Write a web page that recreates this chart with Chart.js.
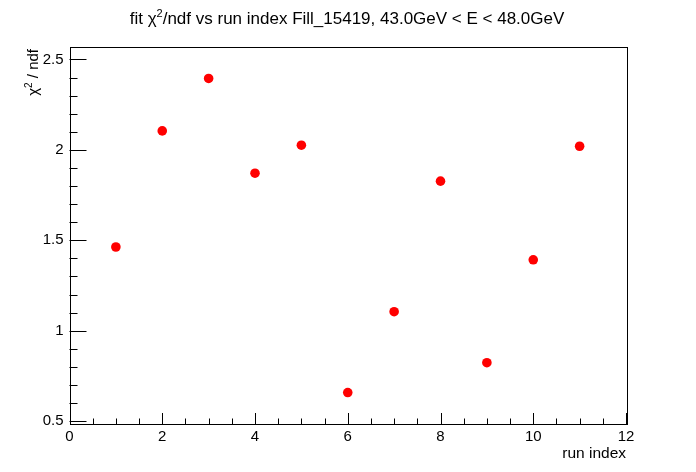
<!DOCTYPE html>
<html>
<head>
<meta charset="utf-8">
<script src="https://cdn.jsdelivr.net/npm/chart.js@4.4.1/dist/chart.umd.min.js"></script>
<style>
  html, body { margin: 0; padding: 0; background: #fff; }
  canvas { display: block; }
</style>
</head>
<body>
<canvas id="chart" width="696" height="472"></canvas>
<script>
// Data
const runIndex = [1, 2, 3, 4, 5, 6, 7, 8, 9, 10, 11];
const chi2ndf = [1.463, 2.105, 2.395, 1.871, 2.026, 0.658, 1.105, 1.827, 0.823, 1.392, 2.020];
const xTicks = [0, 2, 4, 6, 8, 10, 12];
const yTicks = [0.5, 1, 1.5, 2, 2.5];

const FONT = '"Liberation Sans", Arial, Helvetica, sans-serif';

// ROOT-like frame, inward ticks and titles
const rootStyle = {
    id: 'rootStyle',
    afterDraw(chart) {
        const ctx = chart.ctx;
        const area = chart.chartArea;
        const xs = chart.scales.x;
        const ys = chart.scales.y;
        ctx.save();
        ctx.strokeStyle = '#000';
        ctx.lineWidth = 1;

        // frame
        ctx.strokeRect(Math.round(area.left) + 0.5, Math.round(area.top) + 0.5,
            Math.round(area.right - area.left), Math.round(area.bottom - area.top));

        // x ticks (major every 2, minor every 0.5)
        ctx.beginPath();
        for (let v = xs.min; v <= xs.max + 1e-9; v += 0.5) {
            const px = Math.round(xs.getPixelForValue(v)) + 0.5;
            const major = Math.abs(v / 2 - Math.round(v / 2)) < 1e-6;
            const len = major ? 11 : 5.5;
            ctx.moveTo(px, area.bottom);
            ctx.lineTo(px, area.bottom - len);
        }
        // y ticks (major every 0.5, minor every 0.1)
        const start = Math.ceil(ys.min * 10 - 1e-9) / 10;
        for (let v = start; v <= ys.max + 1e-9; v = Math.round((v + 0.1) * 10) / 10) {
            const py = Math.round(ys.getPixelForValue(v)) + 0.5;
            const major = Math.abs(v * 2 - Math.round(v * 2)) < 1e-6;
            const len = major ? 17 : 8;
            ctx.moveTo(area.left, py);
            ctx.lineTo(area.left + len, py);
        }
        ctx.stroke();

        ctx.fillStyle = '#000';

        // main title with superscript
        const parts = [
            ['fit \u03c7', 17, 0],
            ['2', 11, -7],
            ['/ndf vs run index Fill_15419, 43.0GeV < E < 48.0GeV', 17, 0]
        ];
        let total = 0;
        parts.forEach(p => { ctx.font = p[1] + 'px ' + FONT; total += ctx.measureText(p[0]).width; });
        let tx = 347 - total / 2;
        ctx.textBaseline = 'alphabetic';
        ctx.textAlign = 'left';
        parts.forEach(p => {
            ctx.font = p[1] + 'px ' + FONT;
            ctx.fillText(p[0], tx, 24 + p[2]);
            tx += ctx.measureText(p[0]).width;
        });

        // x axis title
        ctx.font = '15.5px ' + FONT;
        ctx.textAlign = 'right';
        ctx.fillText('run index', area.right, 458);

        // y axis title (rotated, right-aligned to top of axis)
        ctx.save();
        ctx.translate(38, area.top + 2);
        ctx.rotate(-Math.PI / 2);
        const yparts = [
            ['\u03c7', 15, 0],
            ['2', 10, -6],
            [' / ndf', 15, 0]
        ];
        let w = 0;
        yparts.forEach(p => { ctx.font = p[1] + 'px ' + FONT; w += ctx.measureText(p[0]).width; });
        let yx = -w;
        ctx.textAlign = 'left';
        yparts.forEach(p => {
            ctx.font = p[1] + 'px ' + FONT;
            ctx.fillText(p[0], yx, p[2]);
            yx += ctx.measureText(p[0]).width;
        });
        ctx.restore();

        ctx.restore();
    }
};

const points = runIndex.map((x, i) => ({ x: x, y: chi2ndf[i] }));

new Chart(document.getElementById('chart'), {
    type: 'scatter',
    data: {
        datasets: [{
            label: 'chi2/ndf',
            data: points,
            backgroundColor: '#ff0000',
            borderColor: '#ff0000',
            pointRadius: 4.8,
            pointHoverRadius: 4.8,
            borderWidth: 0
        }]
    },
    options: {
        responsive: false,
        animation: false,
        layout: { padding: { top: 47, right: 70, left: 0, bottom: 0 } },
        plugins: {
            legend: { display: false },
            tooltip: { enabled: false },
            title: { display: false }
        },
        scales: {
            x: {
                type: 'linear',
                min: 0,
                max: 12,
                afterFit: s => { s.height = 48; },
                afterBuildTicks: s => { s.ticks = xTicks.map(v => ({ value: v })); },
                grid: { display: false, drawTicks: false },
                border: { display: false },
                ticks: {
                    color: '#000',
                    padding: 4,
                    maxRotation: 0,
                    font: { family: FONT, size: 15 },
                    callback: v => String(v)
                }
            },
            y: {
                type: 'linear',
                min: 0.484,
                max: 2.569,
                afterFit: s => { s.width = 69.5; },
                afterBuildTicks: s => { s.ticks = yTicks.map(v => ({ value: v })); },
                grid: { display: false, drawTicks: false },
                border: { display: false },
                ticks: {
                    color: '#000',
                    padding: 6,
                    font: { family: FONT, size: 15 },
                    callback: v => String(v)
                }
            }
        }
    },
    plugins: [rootStyle]
});
</script>
</body>
</html>
